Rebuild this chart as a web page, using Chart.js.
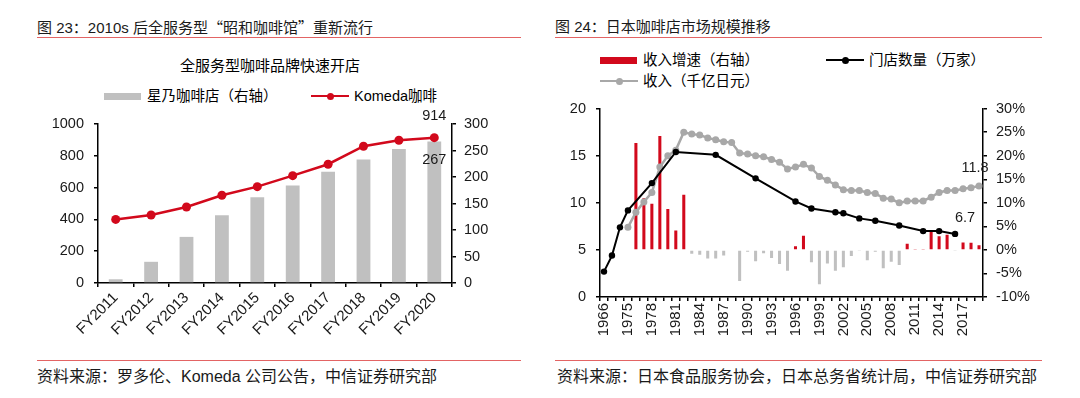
<!DOCTYPE html>
<html>
<head>
<meta charset="utf-8">
<script src="https://cdn.jsdelivr.net/npm/chart.js@4.4.1/dist/chart.umd.min.js"></script>
<style>
  html, body { margin: 0; padding: 0; background: #fff; }
  body { width: 1080px; height: 398px; position: relative; overflow: hidden;
         font-family: "Liberation Sans", "Noto Sans CJK SC", sans-serif; color: #1a1a1a; }
  .abs { position: absolute; white-space: nowrap; }
  .head { font-size: 15px; line-height: 18px; }
  .cjk { font-family: "Noto Sans CJK SC", sans-serif; }
  .rule { position: absolute; height: 1.5px; background: #e36464; }
  .foot { font-size: 16px; line-height: 18px; }
  .leg { font-size: 14.5px; line-height: 16px; color: #000; }
  canvas { position: absolute; }
</style>
</head>
<body>

<!-- 左图 -->
<div class="abs head" style="left:37px; top:18px;">图 23：2010s 后全服务型<span class="cjk">“</span>昭和咖啡馆<span class="cjk">”</span>重新流行</div>
<div class="rule" style="left:37px; top:36.5px; width:484px;"></div>
<div class="abs" style="left:0; width:540px; top:57px; text-align:center; font-size:15px; line-height:18px; color:#000;">全服务型咖啡品牌快速开店</div>
<div id="legendLeft"></div>
<canvas id="leftChart" width="540" height="260" style="left:0; top:100px;"></canvas>
<div class="rule" style="left:37px; top:359.5px; width:484px;"></div>
<div class="abs foot" style="left:37px; top:368px;">资料来源：罗多伦、Komeda 公司公告，中信证券研究部</div>

<!-- 右图 -->
<div class="abs head" style="left:555px; top:18px;">图 24：日本咖啡店市场规模推移</div>
<div class="rule" style="left:555px; top:36.5px; width:487px;"></div>
<div id="legendRight"></div>
<canvas id="rightChart" width="540" height="270" style="left:540px; top:90px;"></canvas>
<div class="rule" style="left:555px; top:359.5px; width:487px;"></div>
<div class="abs foot" style="left:557px; top:368px;">资料来源：日本食品服务协会，日本总务省统计局，中信证券研究部</div>

<script>
// ---------------- 左图数据 ----------------
const fyLabels = ['FY2011', 'FY2012', 'FY2013', 'FY2014', 'FY2015', 'FY2016', 'FY2017', 'FY2018', 'FY2019', 'FY2020'];
const hoshinoStores = [7, 40, 87, 128, 162, 184, 210, 233, 253, 267];   // 星乃咖啡店（右轴）
const komedaStores = [400, 428, 478, 552, 606, 675, 747, 860, 898, 914]; // Komeda咖啡

// ---------------- 右图数据 ----------------
const yearLabels = ['1966', '1969', '1972', '1975', '1976', '1977', '1978', '1979', '1980', '1981',
    '1982', '1983', '1984', '1985', '1986', '1987', '1988', '1989', '1990', '1991',
    '1992', '1993', '1994', '1995', '1996', '1997', '1998', '1999', '2000', '2001',
    '2002', '2003', '2004', '2005', '2006', '2007', '2008', '2009', '2010', '2011',
    '2012', '2013', '2014', '2015', '2016', '2017', '2018', '2019'];
// 收入增速（右轴，%）
const revenueGrowth = [null, null, null, null, 22.7, 11.0, 9.8, 24.2, 8.7, 4.1,
    11.7, -0.8, -1.0, -1.8, -1.8, -1.2, -0.2, -6.6, -0.4, -2.4,
    -0.7, -1.7, -3.0, -4.4, 0.8, 3.0, -2.6, -7.3, -2.9, -4.4,
    -3.7, -1.3, -0.1, -2.2, -0.4, -3.9, -2.5, -3.2, 1.3, 0.1,
    0.1, 3.8, 2.9, 3.2, -0.1, 1.6, 1.5, 1.0];
// 门店数量（万家）
const storeCount = [2.7, 4.4, 7.4, 9.2, null, null, 12.1, null, null, 15.4,
    null, null, null, null, 15.1, null, null, null, null, 12.6,
    null, null, null, null, 10.15, null, 9.4, null, null, 9.0,
    8.9, null, 8.35, null, 8.1, null, null, 7.6, null, null,
    7.0, null, 7.0, null, 6.7, null, null, null];
// 收入（千亿日元）
const revenue = [null, null, null, 7.4, 9.0, 10.1, 11.1, 13.8, 15.0, 15.6,
    17.5, 17.3, 17.2, 16.9, 16.7, 16.5, 16.4, 15.3, 15.2, 15.0,
    14.9, 14.6, 14.3, 13.6, 13.8, 14.1, 13.7, 12.8, 12.4, 11.9,
    11.4, 11.3, 11.3, 11.1, 11.0, 10.5, 10.4, 10.0, 10.2, 10.2,
    10.2, 10.6, 11.1, 11.3, 11.3, 11.5, 11.6, 11.8];

const RED = '#d2091c';
const GREY_BAR = '#c0c0c0';
const GREY_LINE = '#a8a8a8';
const FONT = '"Liberation Sans", "Noto Sans CJK SC", sans-serif';

Chart.defaults.font.family = FONT;
Chart.defaults.color = '#1a1a1a';
Chart.defaults.animation = false;

// 图例（HTML）
function legendItem(x, y, kind, color, text) {
    let mark = '';
    if (kind === 'box') {
        mark = `<div class="abs" style="left:${x}px; top:${y - 3.5}px; width:37px; height:7px; background:${color};"></div>`;
    } else {
        mark = `<div class="abs" style="left:${x}px; top:${y - 1}px; width:38px; height:2px; background:${color};"></div>` +
               `<div class="abs" style="left:${x + 15.5}px; top:${y - 3.5}px; width:7px; height:7px; border-radius:50%; background:${color};"></div>`;
    }
    return mark + `<div class="abs leg" style="left:${x + 43}px; top:${y - 8}px;">${text}</div>`;
}

document.getElementById('legendLeft').innerHTML =
    legendItem(104, 96, 'box', GREY_BAR, '星乃咖啡店（右轴）') +
    legendItem(311, 96, 'line', RED, 'Komeda咖啡');

document.getElementById('legendRight').innerHTML =
    legendItem(600, 60, 'box', RED, '收入增速（右轴）') +
    legendItem(826, 60, 'line', '#000', '门店数量（万家）') +
    legendItem(600, 81, 'line', GREY_LINE, '收入（千亿日元）');

// 末端数据标注
const endLabels = {
    id: 'endLabels',
    afterDatasetsDraw(chart, args, opts) {
        const ctx = chart.ctx;
        ctx.save();
        ctx.font = '14.5px ' + FONT;
        ctx.fillStyle = '#1a1a1a';
        ctx.textAlign = 'center';
        ctx.textBaseline = 'middle';
        opts.items.forEach(item => {
            const meta = chart.getDatasetMeta(item.dataset);
            const pt = meta.data[item.index];
            if (!pt) return;
            const value = chart.data.datasets[item.dataset].data[item.index];
            ctx.fillText(String(value), pt.x + item.dx, pt.y + item.dy);
        });
        ctx.restore();
    }
};

function axisGrid() {
    return { drawOnChartArea: false, drawTicks: true, tickLength: 4, color: '#000', lineWidth: 1.5 };
}
const axisBorder = { display: true, color: '#000', width: 1.5 };

// ---------------- 左图 ----------------
new Chart(document.getElementById('leftChart'), {
    type: 'bar',
    data: {
        labels: fyLabels,
        datasets: [
            {
                type: 'line',
                label: 'Komeda咖啡',
                data: komedaStores,
                yAxisID: 'y',
                borderColor: RED,
                backgroundColor: RED,
                borderWidth: 2.5,
                pointRadius: 4.5,
                pointBackgroundColor: RED,
                pointBorderWidth: 0,
                tension: 0,
                order: 1
            },
            {
                label: '星乃咖啡店（右轴）',
                data: hoshinoStores,
                yAxisID: 'y1',
                backgroundColor: GREY_BAR,
                barPercentage: 0.39,
                categoryPercentage: 1,
                order: 2
            }
        ]
    },
    options: {
        responsive: false,
        layout: { padding: { top: 24, left: 0, right: 0, bottom: 0 } },
        plugins: {
            legend: { display: false },
            tooltip: { enabled: false },
            endLabels: {
                items: [
                    { dataset: 0, index: 9, dx: 0, dy: -22 },
                    { dataset: 1, index: 9, dx: 0, dy: 19 }
                ]
            }
        },
        scales: {
            x: {
                grid: axisGrid(),
                border: axisBorder,
                ticks: { font: { size: 15 }, minRotation: 45, maxRotation: 45, padding: 2, color: '#1a1a1a' },
                afterFit(scale) { scale.height = 77; }
            },
            y: {
                position: 'left',
                min: 0, max: 1000,
                ticks: { stepSize: 200, font: { size: 14.5 }, padding: 10, color: '#1a1a1a', callback: v => String(v) },
                grid: axisGrid(),
                border: axisBorder,
                afterFit(scale) { scale.width = 98; }
            },
            y1: {
                position: 'right',
                min: 0, max: 300,
                ticks: { stepSize: 50, font: { size: 14.5 }, padding: 8, color: '#1a1a1a', callback: v => String(v) },
                grid: axisGrid(),
                border: axisBorder,
                afterFit(scale) { scale.width = 88; }
            }
        }
    },
    plugins: [endLabels]
});

// ---------------- 右图 ----------------
new Chart(document.getElementById('rightChart'), {
    type: 'bar',
    data: {
        labels: yearLabels,
        datasets: [
            {
                type: 'line',
                label: '门店数量（万家）',
                data: storeCount,
                yAxisID: 'y',
                borderColor: '#000',
                backgroundColor: '#000',
                borderWidth: 2,
                pointRadius: 3.2,
                pointBorderWidth: 0,
                spanGaps: true,
                tension: 0,
                order: 1
            },
            {
                type: 'line',
                label: '收入（千亿日元）',
                data: revenue,
                yAxisID: 'y',
                borderColor: GREY_LINE,
                backgroundColor: GREY_LINE,
                borderWidth: 2.5,
                pointRadius: 3.5,
                pointBorderWidth: 0,
                tension: 0,
                order: 2
            },
            {
                label: '收入增速（右轴）',
                data: revenueGrowth,
                yAxisID: 'y1',
                backgroundColor: revenueGrowth.map(v => (v !== null && v >= 0) ? RED : GREY_BAR),
                barPercentage: 0.38,
                categoryPercentage: 1,
                order: 3
            }
        ]
    },
    options: {
        responsive: false,
        layout: { padding: { top: 12, left: 0, right: 0, bottom: 0 } },
        plugins: {
            legend: { display: false },
            tooltip: { enabled: false },
            endLabels: {
                items: [
                    { dataset: 1, index: 47, dx: -4, dy: -18 },
                    { dataset: 0, index: 44, dx: 10, dy: -16 }
                ]
            }
        },
        scales: {
            x: {
                grid: axisGrid(),
                border: axisBorder,
                ticks: {
                    autoSkip: false,
                    minRotation: 90, maxRotation: 90,
                    font: { size: 15 }, padding: 2, color: '#1a1a1a',
                    callback(val, idx) { return idx % 3 === 0 ? this.getLabelForValue(val) : ''; }
                },
                afterFit(scale) { scale.height = 63; }
            },
            y: {
                position: 'left',
                min: 0, max: 20,
                ticks: { stepSize: 5, font: { size: 14.5 }, padding: 10, color: '#1a1a1a' },
                grid: axisGrid(),
                border: axisBorder,
                afterFit(scale) { scale.width = 60; }
            },
            y1: {
                position: 'right',
                min: -10, max: 30,
                ticks: { stepSize: 5, font: { size: 14.5 }, padding: 9, color: '#1a1a1a',
                         callback: v => v + '%' },
                grid: axisGrid(),
                border: axisBorder,
                afterFit(scale) { scale.width = 97; }
            }
        }
    },
    plugins: [endLabels]
});
</script>
</body>
</html>
